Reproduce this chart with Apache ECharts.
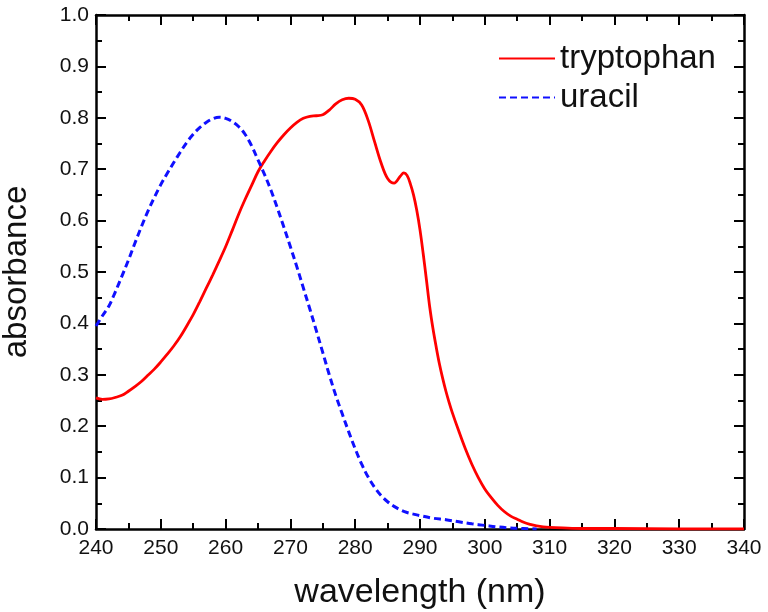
<!DOCTYPE html>
<html>
<head>
<meta charset="utf-8">
<script src="https://cdn.jsdelivr.net/npm/echarts@6/dist/echarts.min.js"></script>
<style>html,body{margin:0;padding:0;background:#fff}#c{width:768px;height:612px}</style>
</head>
<body>
<div id="c"></div>
<script>
const trpX = [240,241,242,243,244,245,246,247,248,249,250,251,252,253,254,255,256,257,258,259,260,261,262,263,264,265,266,267,268,269,270,271,272,273,274,275,276,277,278,279,280,281,282,283,284,285,286,287,287.5,288,288.5,289,289.5,290,290.5,291,291.5,292,292.5,293,293.5,294,294.5,295,296,297,298,299,300,301,302,303,304,305,306,307,308,309,310,312,315,320,330,340];
const trpY = [0.255,0.252,0.253,0.256,0.260,0.268,0.277,0.287,0.299,0.311,0.325,0.340,0.356,0.374,0.395,0.417,0.442,0.468,0.494,0.521,0.549,0.580,0.612,0.641,0.668,0.695,0.716,0.735,0.752,0.767,0.780,0.791,0.799,0.803,0.804,0.806,0.815,0.827,0.835,0.838,0.836,0.825,0.795,0.753,0.712,0.682,0.673,0.687,0.693,0.688,0.672,0.650,0.620,0.582,0.535,0.484,0.432,0.390,0.354,0.321,0.293,0.268,0.246,0.226,0.190,0.156,0.126,0.100,0.078,0.061,0.046,0.034,0.025,0.019,0.013,0.009,0.006,0.004,0.003,0.002,0.001,0.001,0.000,0.000];
const uraX = [240,241,242,243,244,245,246,247,248,249,250,251,252,253,254,255,256,257,258,259,260,261,262,263,264,265,266,267,268,269,270,271,272,273,274,275,276,277,278,279,280,281,282,283,284,285,286,287,288,289,290,292,294,296,298,300,302,304,306,308];
const uraY = [0.395,0.415,0.434,0.462,0.492,0.523,0.556,0.588,0.618,0.645,0.670,0.692,0.713,0.733,0.752,0.768,0.781,0.791,0.798,0.801,0.799,0.793,0.783,0.768,0.746,0.718,0.690,0.659,0.624,0.587,0.549,0.510,0.469,0.428,0.386,0.343,0.300,0.260,0.224,0.189,0.156,0.126,0.101,0.081,0.065,0.053,0.044,0.037,0.032,0.029,0.026,0.021,0.018,0.014,0.010,0.007,0.004,0.002,0.001,0.000];
const xTicks = [240,250,260,270,280,290,300,310,320,330,340];
const yTicks = [0.0,0.1,0.2,0.3,0.4,0.5,0.6,0.7,0.8,0.9,1.0];
const seriesNames = ['tryptophan','uracil'];

const FONT = 'Liberation Sans, Arial, sans-serif';
const zip = (xs, ys) => xs.map((x, i) => [x, ys[i]]);
const axLine = {show: true, onZero: false, lineStyle: {color: '#000', width: 2.5}};
const tick = {show: true, inside: true, length: 10, lineStyle: {color: '#000', width: 2}};
const minor = {show: true, splitNumber: 2, length: 6, lineStyle: {color: '#000', width: 2}};
const baseX = {type: 'value', min: xTicks[0], max: xTicks[xTicks.length-1], interval: 10,
  axisLine: axLine, axisTick: tick, minorTick: minor, splitLine: {show: false}};
const baseY = {type: 'value', min: yTicks[0], max: yTicks[yTicks.length-1], interval: 0.1,
  axisLine: axLine, axisTick: tick, minorTick: minor, splitLine: {show: false}};

const chart = echarts.init(document.getElementById('c'), null, {renderer: 'canvas'});
chart.setOption({
  animation: false,
  backgroundColor: '#fff',
  grid: {left: 96, right: 24, top: 15, bottom: 83, containLabel: false, outerBoundsMode: 'none'},
  legend: {
    orient: 'vertical', left: 493, top: 37, itemWidth: 56, itemHeight: 20, itemGap: 6,
    itemStyle: {opacity: 0},
    textStyle: {fontFamily: FONT, fontSize: 33, color: '#111', padding: 0},
    data: seriesNames
  },
  xAxis: [
    Object.assign({}, baseX, {position: 'bottom',
      axisLabel: {show: true, margin: 9, fontFamily: FONT, fontSize: 21, color: '#111',
        formatter: v => String(v)},
      name: 'wavelength (nm)', nameLocation: 'middle', nameGap: 47,
      nameTextStyle: {fontFamily: FONT, fontSize: 34, color: '#111', verticalAlign: 'top'}}),
    Object.assign({}, baseX, {position: 'top', axisLabel: {show: false}})
  ],
  yAxis: [
    Object.assign({}, baseY, {position: 'left',
      axisLabel: {show: true, margin: 7, fontFamily: FONT, fontSize: 21, color: '#111',
        formatter: v => v.toFixed(1)},
      name: 'absorbance', nameLocation: 'middle', nameGap: 63,
      nameTextStyle: {fontFamily: FONT, fontSize: 33, color: '#111'}}),
    Object.assign({}, baseY, {position: 'right', axisLabel: {show: false}})
  ],
  series: [
    {name: seriesNames[0], type: 'line', xAxisIndex: 0, yAxisIndex: 0, smooth: 0.35, showSymbol: false, symbol: 'none',
      data: zip(trpX, trpY), lineStyle: {color: '#ff0000', width: 2.8}, itemStyle: {color: '#ff0000'}},
    {name: seriesNames[1], type: 'line', xAxisIndex: 0, yAxisIndex: 0, smooth: 0.35, showSymbol: false, symbol: 'none',
      data: zip(uraX, uraY), lineStyle: {color: '#1010ff', width: 3, type: [7, 4]}, itemStyle: {color: '#1010ff'}}
  ]
});
</script>
</body>
</html>
